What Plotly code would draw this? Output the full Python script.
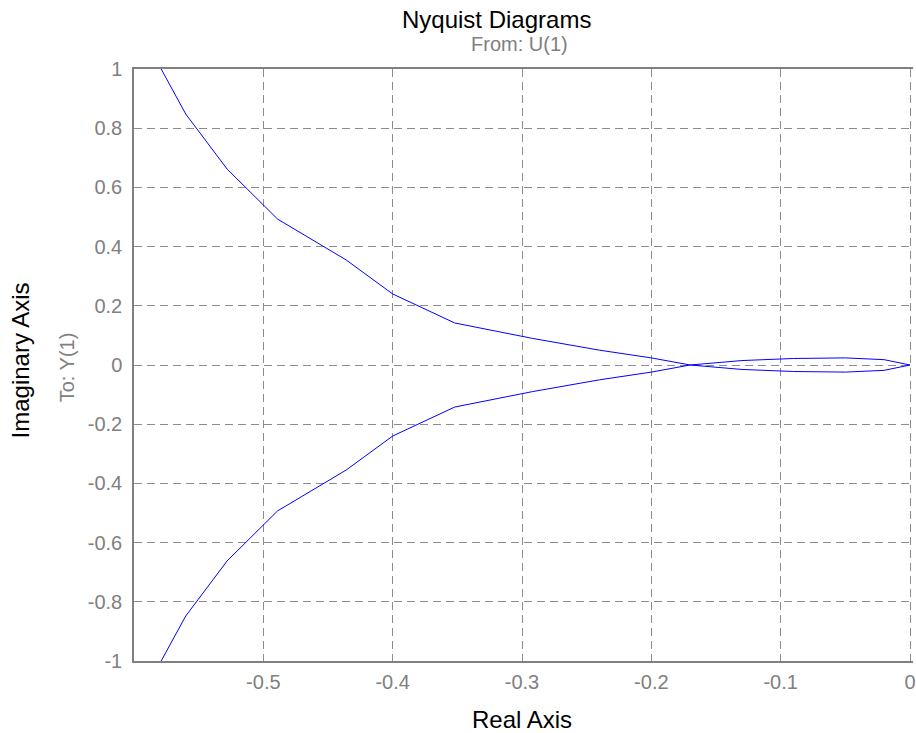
import plotly.graph_objects as go

# Nyquist branch for positive frequencies (real, imaginary); the other branch is its mirror
re_pos = [-0.579, -0.560, -0.528, -0.489, -0.436, -0.400, -0.352, -0.292, -0.240, -0.200,
          -0.170, -0.130, -0.090, -0.050, -0.020, -0.008, 0.0]
im_pos = [1.000, 0.848, 0.662, 0.493, 0.355, 0.240, 0.142, 0.090, 0.050, 0.024,
          0.000, -0.015, -0.022, -0.024, -0.018, -0.008, 0.0]
re_neg = list(re_pos)
im_neg = [-v for v in im_pos]

x_ticks = [-0.5, -0.4, -0.3, -0.2, -0.1, 0]
x_labels = ["-0.5", "-0.4", "-0.3", "-0.2", "-0.1", "0"]
y_ticks = [-1, -0.8, -0.6, -0.4, -0.2, 0, 0.2, 0.4, 0.6, 0.8, 1]
y_labels = ["-1", "-0.8", "-0.6", "-0.4", "-0.2", "0", "0.2", "0.4", "0.6", "0.8", "1"]

W, H = 916, 733
L, R, T, B = 134, 0, 69, 72
PW, PH = W - L - R, H - T - B

def px(x):
    return (x - L) / PW

def py(y):
    return (H - B - y) / PH

FONT = "Liberation Sans, Arial, sans-serif"
GRAY = "#808080"

fig = go.Figure()
fig.add_trace(go.Scatter(x=re_pos, y=im_pos, mode="lines",
                         line=dict(color="#0000ff", width=1), showlegend=False))
fig.add_trace(go.Scatter(x=re_neg, y=im_neg, mode="lines",
                         line=dict(color="#0000ff", width=1), showlegend=False))

axis_common = dict(showgrid=True, gridcolor="#8c8c8c", griddash="8px,5px", gridwidth=1,
                   zeroline=False, showline=True, linecolor=GRAY, linewidth=1.5,
                   ticks="", ticklabeloverflow="allow",
                   tickfont=dict(family=FONT, size=20, color=GRAY))

fig.update_layout(
    width=W, height=H,
    margin=dict(l=L, r=R, t=T, b=B, pad=0),
    paper_bgcolor="white", plot_bgcolor="white",
    xaxis=dict(range=[-0.6, 0.00231], tickvals=x_ticks, ticktext=x_labels,
               ticklabelstandoff=2, mirror=True, **axis_common),
    yaxis=dict(range=[-1, 1], tickvals=y_ticks, ticktext=y_labels,
               ticklabelstandoff=6, mirror=False, **axis_common),
    annotations=[
        dict(text="Nyquist Diagrams", x=px(498), y=py(19), xref="paper", yref="paper",
             showarrow=False, xanchor="center", yanchor="middle",
             font=dict(family=FONT, size=24, color="black")),
        dict(text="From: U(1)", x=px(521), y=py(44), xref="paper", yref="paper",
             showarrow=False, xanchor="center", yanchor="middle",
             font=dict(family=FONT, size=20, color=GRAY)),
        dict(text="Real Axis", x=px(523), y=py(719), xref="paper", yref="paper",
             showarrow=False, xanchor="center", yanchor="middle",
             font=dict(family=FONT, size=24, color="black")),
        dict(text="Imaginary Axis", x=px(20), y=py(360), xref="paper", yref="paper",
             showarrow=False, xanchor="center", yanchor="middle", textangle=-90,
             font=dict(family=FONT, size=24, color="black")),
        dict(text="To: Y(1)", x=px(67), y=py(367), xref="paper", yref="paper",
             showarrow=False, xanchor="center", yanchor="middle", textangle=-90,
             font=dict(family=FONT, size=20, color=GRAY)),
    ],
)

fig.write_html("out.html", config={"displayModeBar": False},
               post_script="document.body.style.margin='0px';")
